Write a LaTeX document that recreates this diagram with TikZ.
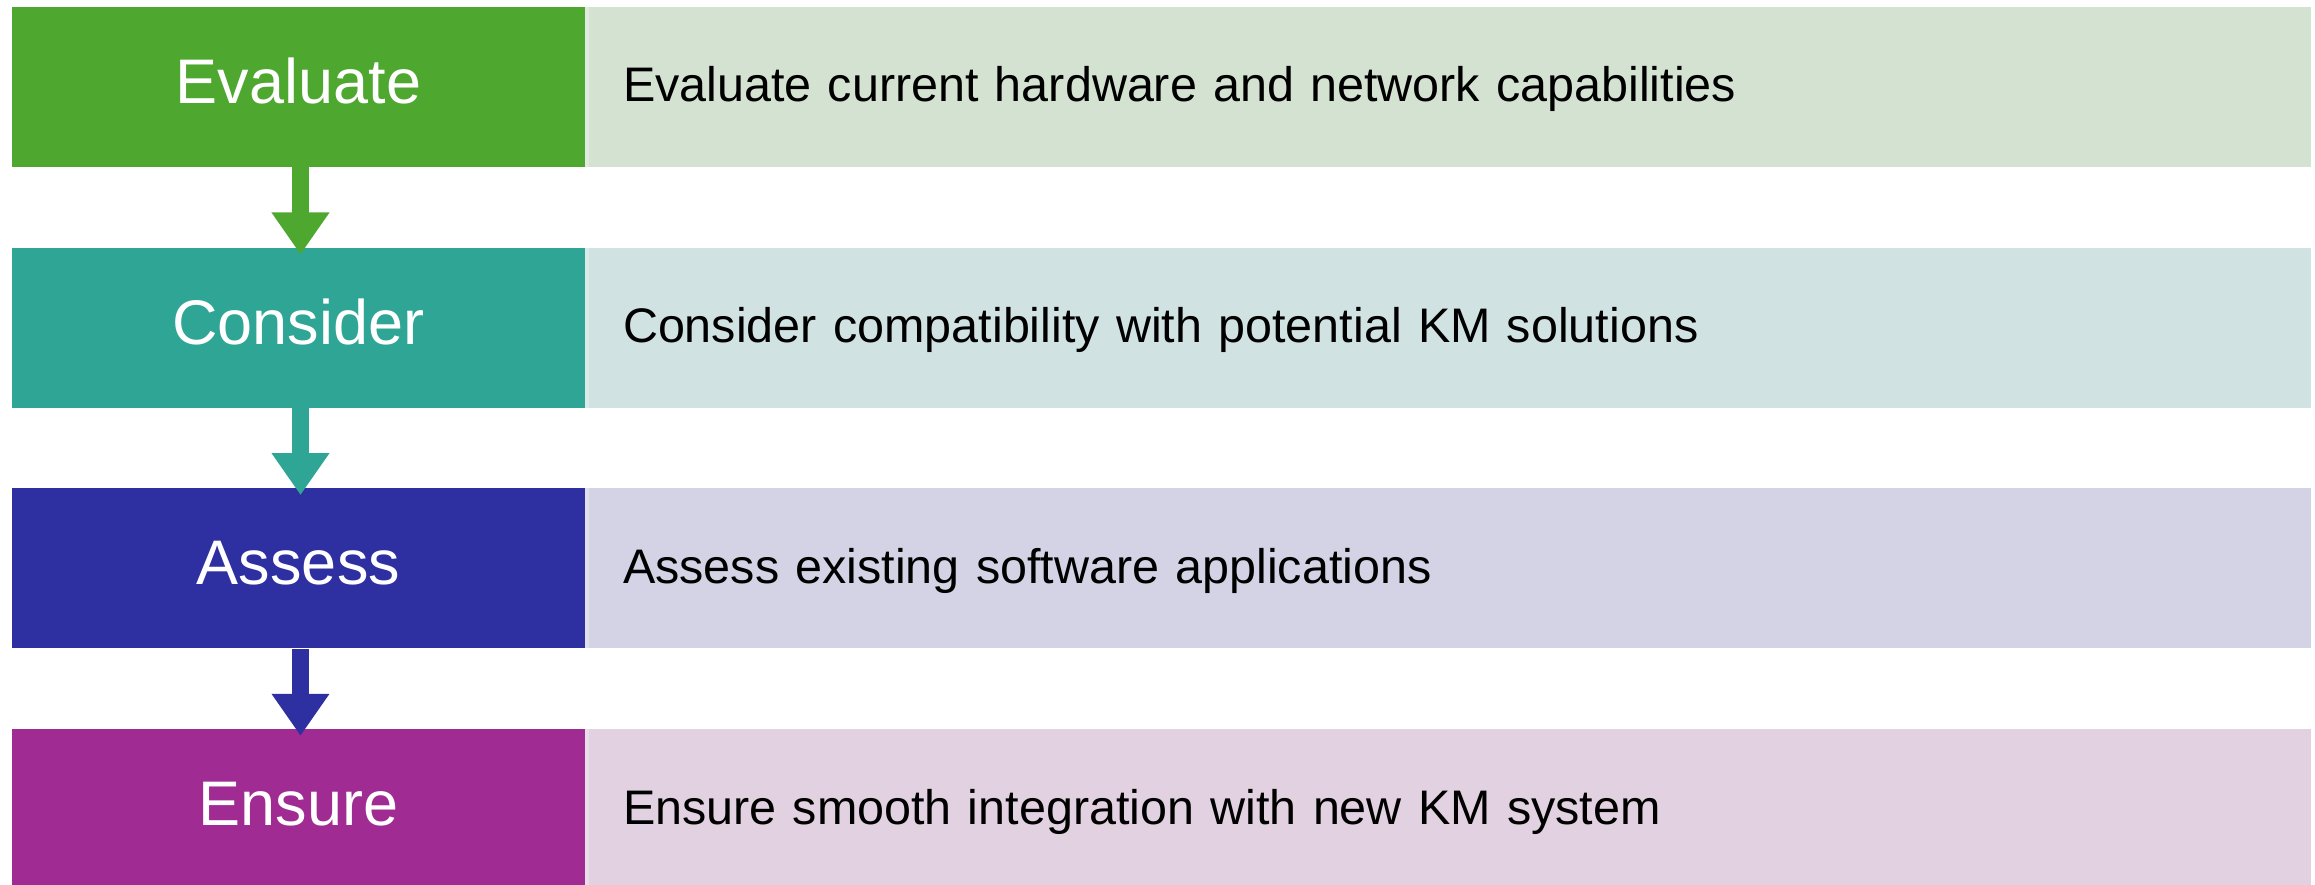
\documentclass[tikz,border=0pt]{standalone}
\usepackage{fontspec}
\setmainfont{Liberation Sans}
\usetikzlibrary{arrows.meta}
\definecolor{cA}{HTML}{4EA72E}
\definecolor{cB}{HTML}{2EA595}
\definecolor{cC}{HTML}{2E2FA0}
\definecolor{cD}{HTML}{A02B93}
\definecolor{lA}{HTML}{D4E2D1}
\definecolor{lB}{HTML}{D1E2E2}
\definecolor{lC}{HTML}{D3D3E5}
\definecolor{lD}{HTML}{E1D1E1}
\tikzset{
  stagebox/.style={draw=none, rectangle, minimum width=573pt, minimum height=160pt,
    inner sep=0pt, text=white, font=\fontsize{63}{68}\selectfont,
    text height=33pt, text depth=0pt},
  descbox/.style={draw=none, rectangle, minimum width=1726pt, minimum height=160pt,
    inner xsep=38pt, inner ysep=0pt, text width=1650pt, align=left, text=black,
    font=\fontsize{48.5}{52}\selectfont, text height=30pt, text depth=0pt,
    path picture={\fill[white,opacity=0.3] (path picture bounding box.north west) rectangle ++(4pt,-160pt);}},
  flowarrow/.style={line width=17pt, -{Triangle[width=55pt,length=42pt]}}
}
\begin{document}
\begin{tikzpicture}[x=1pt,y=-1pt]
\useasboundingbox (0,0) rectangle (2315,885);
\node[stagebox, fill=cA] (s1) at (298.5,87) {Evaluate};
\node[descbox, fill=lA] (d1) at (1448,87) {Evaluate current hardware and network capabilities};
\node[stagebox, fill=cB] (s2) at (298.5,327.7) {Consider};
\node[descbox, fill=lB] (d2) at (1448,327.7) {Consider compatibility with potential KM solutions};
\node[stagebox, fill=cC] (s3) at (298.5,568.3) {Assess};
\node[descbox, fill=lC] (d3) at (1448,568.3) {Assess existing software applications};
\node[stagebox, fill=cD] (s4) at (298.5,809) {Ensure};
\node[descbox, fill=lD] (d4) at (1448,809) {Ensure smooth integration with new KM system};
\draw[flowarrow, cA] ([xshift=2pt]s1.south) -- ([xshift=2pt,yshift=-7pt]s2.north);
\draw[flowarrow, cB] ([xshift=2pt]s2.south) -- ([xshift=2pt,yshift=-7pt]s3.north);
\draw[flowarrow, cC] ([xshift=2pt]s3.south) -- ([xshift=2pt,yshift=-7pt]s4.north);
\end{tikzpicture}
\end{document}
